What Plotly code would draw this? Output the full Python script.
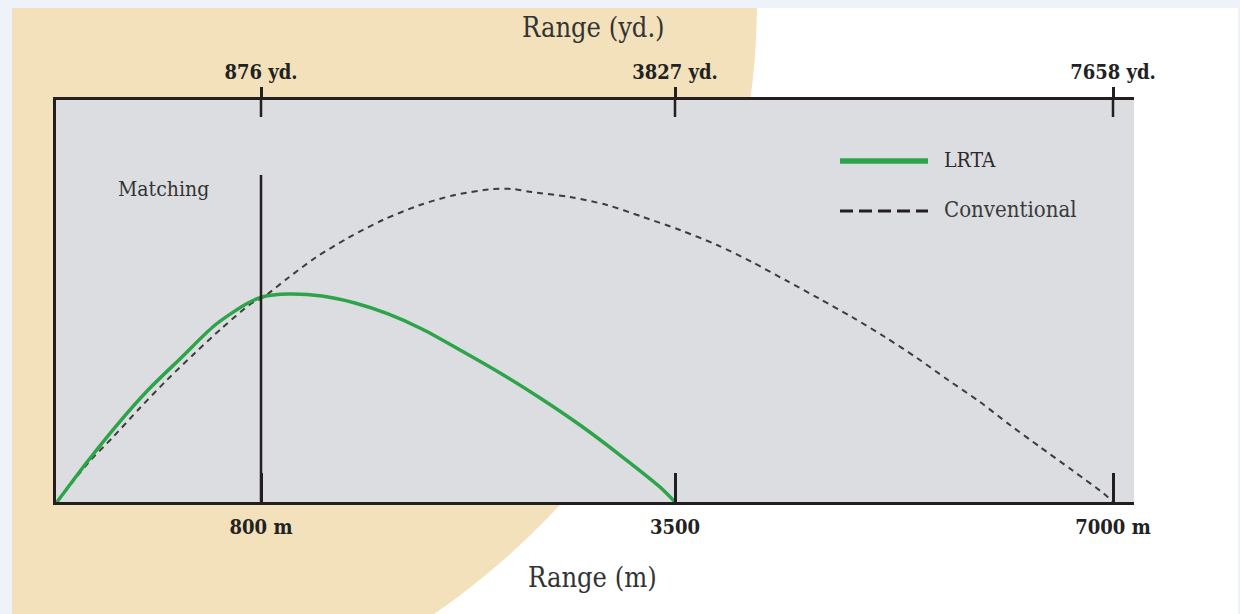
import numpy as np
import plotly.graph_objects as go

# ---------------- data ----------------
tick_range_m = [800, 3500, 7000]
tick_text_m = ["800 m", "3500", "7000 m"]
tick_text_yd = ["876 yd.", "3827 yd.", "7658 yd."]
matching_range_m = 800

lrta_range_m = [0, 118, 235, 357, 490, 620, 749, 807, 976, 1198, 1413, 1629, 1850,
                2098, 2359, 2620, 2880, 3141, 3402, 3500]
lrta_height = [0, 9.95, 19.15, 27.86, 36.07, 44.03, 49.50, 51.0, 51.74, 51.24, 49.50,
               46.77, 43.03, 37.81, 32.09, 25.87, 19.15, 11.69, 3.73, 0]

conv_range_m = [0, 122, 220, 325, 431, 541, 647, 765, 808, 976, 1152, 1367, 1595, 1837,
                2065, 2313, 2437, 2567, 2815, 3056, 3291, 3540, 3836, 4115, 4395, 4643,
                4914, 5178, 5434, 5682, 5937, 6177, 6417, 6672, 6920, 7000]
conv_height = [0, 9.70, 16.17, 23.38, 30.35, 37.06, 43.28, 49.50, 50.75, 55.72, 60.70,
               65.67, 70.15, 73.88, 76.37, 77.86, 77.86, 77.11, 75.87, 73.88, 70.90,
               67.66, 63.93, 59.70, 54.98, 50.75, 46.02, 41.04, 35.82, 30.35, 24.88,
               19.15, 13.68, 7.96, 2.24, 0]

series_names = ["LRTA", "Conventional"]

# ---------------- schematic (non-linear) range scale ----------------
SCALE_KNOTS_M = [0, 800, 3500, 7000]
SCALE_KNOTS_POS = [1, 205, 619, 1057]


def to_pos(m):
    return np.interp(np.asarray(m, dtype=float), SCALE_KNOTS_M, SCALE_KNOTS_POS)


# ---------------- layout geometry helpers ----------------
W, H = 1240, 614
L, R, T, B = 56, 1134, 100, 502


def px(x):
    return (x - L) / (R - L)


def py(y):
    return (B - y) / (B - T)


GREEN = "#2da44a"
DARK = "#231f20"
FONT = "DejaVu Serif Condensed, DejaVu Serif, serif"

fig = go.Figure()
fig.add_trace(go.Scatter(x=to_pos(conv_range_m), y=conv_height, mode="lines",
                         name=series_names[1],
                         line=dict(color="#3c3c3c", width=2, dash="6px,5px", shape="spline", smoothing=0.8),
                         showlegend=False))
fig.add_trace(go.Scatter(x=to_pos(lrta_range_m), y=lrta_height, mode="lines",
                         name=series_names[0],
                         line=dict(color=GREEN, width=3.5, shape="spline", smoothing=0.8),
                         showlegend=False))
# anchor trace for the top (yards) axis
fig.add_trace(go.Scatter(x=[], y=[], xaxis="x2", showlegend=False, hoverinfo="skip"))

shapes = []
# white inner panel
shapes.append(dict(type="rect", xref="paper", yref="paper", x0=px(12), x1=px(1238),
                   y0=py(616), y1=py(8), fillcolor="white", line_width=0, layer="below"))
# beige quarter disc
cx, cy, r = 12, 0, 745
ys = np.linspace(8, 616, 60)
xs = cx + np.sqrt(r ** 2 - (ys - cy) ** 2)
path = f"M {px(12)},{py(8)} " + " ".join(f"L {px(a)},{py(b)}" for a, b in zip(xs, ys)) + f" L {px(12)},{py(616)} Z"
shapes.append(dict(type="path", xref="paper", yref="paper", path=path,
                   fillcolor="#f2e1bb", line_width=0, layer="below"))
# gray plot area
shapes.append(dict(type="rect", xref="paper", yref="paper", x0=0, x1=1, y0=0, y1=1,
                   fillcolor="#dcdde0", line_width=0, layer="below"))
# matching vertical line
shapes.append(dict(type="line", xref="x", yref="paper", x0=float(to_pos(matching_range_m)),
                   x1=float(to_pos(matching_range_m)), y0=0, y1=py(175),
                   line=dict(color=DARK, width=2.5)))
# inner part of the top ticks
for v in tick_range_m:
    p = float(to_pos(v))
    shapes.append(dict(type="line", xref="x", yref="paper", x0=p, x1=p, y0=1, y1=py(117),
                       line=dict(color=DARK, width=2.5)))
# legend samples
shapes.append(dict(type="line", xref="paper", yref="paper", x0=px(840), x1=px(928),
                   y0=py(161), y1=py(161), line=dict(color=GREEN, width=5.5)))
shapes.append(dict(type="line", xref="paper", yref="paper", x0=px(840), x1=px(928),
                   y0=py(211), y1=py(211), line=dict(color=DARK, width=3, dash="13px,6px")))

annotations = [
    dict(text=series_names[0], xref="paper", yref="paper", x=px(942), y=py(160), xanchor="left",
         yanchor="middle", showarrow=False, font=dict(family=FONT, size=21, color="#2b2b2b")),
    dict(text=series_names[1], xref="paper", yref="paper", x=px(942), y=py(209), xanchor="left",
         yanchor="middle", showarrow=False, font=dict(family=FONT, size=22, color="#3a3a3a")),
    dict(text="Matching", xref="paper", yref="paper", x=px(116), y=py(189), xanchor="left",
         yanchor="middle", showarrow=False, font=dict(family=FONT, size=21, color="#333333")),
    dict(text="Range (yd.)", xref="paper", yref="paper", x=px(593), y=py(28), xanchor="center",
         yanchor="middle", showarrow=False, font=dict(family=FONT, size=27, color="#333333")),
    dict(text="Range (m)", xref="paper", yref="paper", x=px(592), y=py(577), xanchor="center",
         yanchor="middle", showarrow=False, font=dict(family=FONT, size=27, color="#333333")),
]

fig.update_layout(
    width=W, height=H,
    margin=dict(l=L, r=W - R, t=T, b=H - B, pad=0),
    paper_bgcolor="#eef3f9",
    plot_bgcolor="rgba(0,0,0,0)",
    shapes=shapes,
    annotations=annotations,
    xaxis=dict(range=[0, R - L], showgrid=False, zeroline=False, showline=True, mirror=True,
               linecolor=DARK, linewidth=2.5, ticks="inside", ticklen=29, tickwidth=2.5,
               tickcolor=DARK, tickvals=to_pos(tick_range_m), ticktext=tick_text_m,
               ticklabelstandoff=5,
               tickfont=dict(family=FONT, size=20, color="#222222", weight="bold")),
    xaxis2=dict(range=[0, R - L], overlaying="x", side="top", showgrid=False, zeroline=False,
                showline=False, ticks="outside", ticklen=12, tickwidth=2.5, tickcolor=DARK,
                tickvals=to_pos(tick_range_m), ticktext=tick_text_yd, ticklabelstandoff=0,
                tickfont=dict(family=FONT, size=20, color="#222222", weight="bold")),
    yaxis=dict(range=[0, 100], showgrid=False, zeroline=False, showline=True, mirror=False,
               linecolor=DARK, linewidth=2.5, showticklabels=False, ticks=""),
)

fig.write_html("out.html", config={"displayModeBar": False},
               post_script="document.body.style.margin='0';")
